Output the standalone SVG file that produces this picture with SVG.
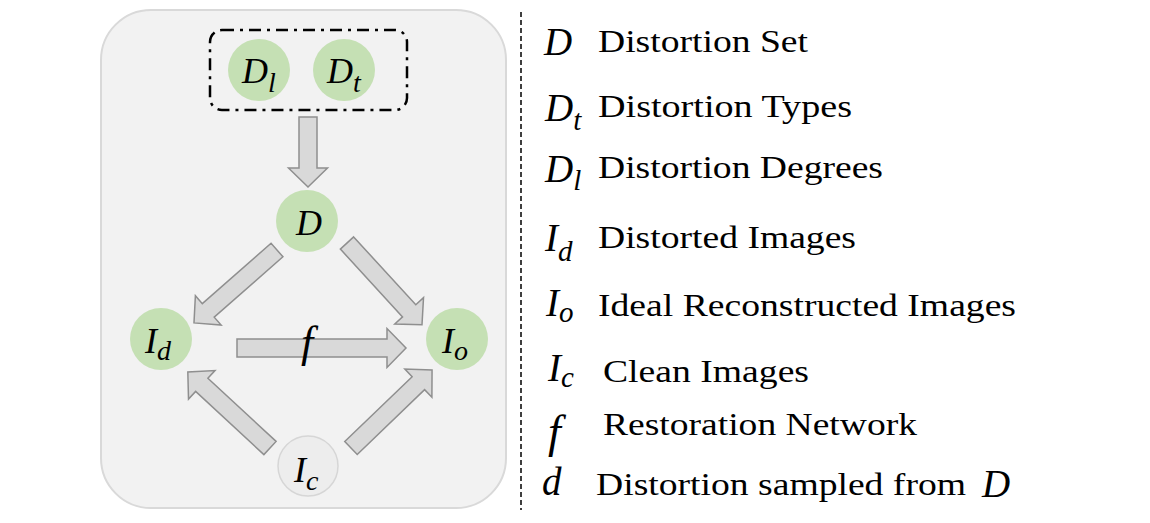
<svg xmlns="http://www.w3.org/2000/svg" width="1150" height="523" viewBox="0 0 1150 523">
<style>
.math{font-family:"Liberation Serif","Times New Roman",serif;font-style:italic;fill:#000}
.txt{font-family:"Liberation Serif","Times New Roman",serif;font-size:32px;fill:#000}
.node{fill:#c5e0b4}
.nodec{fill:#ededed;stroke:#d6d6d6;stroke-width:1.5}
.arrow{fill:#d9d9d9;stroke:#8f8f8f;stroke-width:1.5;stroke-linejoin:miter}
</style>
<rect width="1150" height="523" fill="#ffffff"/>
<g id="panel">
<rect x="101" y="10" width="405" height="498" rx="50" ry="50" fill="#f2f2f2" stroke="#d9d9d9" stroke-width="2"/>
</g>
<g id="group-box">
<rect x="210" y="30" width="197" height="80" rx="12" ry="12" fill="none" stroke="#000" stroke-width="2.5" stroke-dasharray="12 6 3 6"/>
</g>
<g id="connectors">
<path class="arrow" transform="translate(308,117) rotate(90)" d="M0,-9 L51,-9 L51,-19.5 L70,0 L51,19.5 L51,9 L0,9 Z"/>
<path class="arrow" transform="translate(277,250) rotate(138.7)" d="M0,-9 L91.5,-9 L91.5,-19.5 L110.5,0 L91.5,19.5 L91.5,9 L0,9 Z"/>
<path class="arrow" transform="translate(347,243) rotate(47.5)" d="M0,-9 L92,-9 L92,-19.5 L111,0 L92,19.5 L92,9 L0,9 Z"/>
<path class="arrow" transform="translate(270,448) rotate(-137.2)" d="M0,-9 L93,-9 L93,-19.5 L112,0 L93,19.5 L93,9 L0,9 Z"/>
<path class="arrow" transform="translate(351,448) rotate(-43.9)" d="M0,-9 L93.5,-9 L93.5,-19.5 L112.5,0 L93.5,19.5 L93.5,9 L0,9 Z"/>
<path class="arrow" transform="translate(237,348)" d="M0,-9 L150,-9 L150,-19.5 L169,0 L150,19.5 L150,9 L0,9 Z"/>
<text class="math" x="301" y="357" font-size="44">f</text>
</g>
<g id="node-Dl">
<circle class="node" cx="259" cy="70" r="31"/>
<text class="math" x="242" y="83" font-size="36">D<tspan font-size="28" dy="9">l</tspan></text>
</g>
<g id="node-Dt">
<circle class="node" cx="344" cy="70" r="31"/>
<text class="math" x="327" y="83" font-size="36">D<tspan font-size="28" dy="9">t</tspan></text>
</g>
<g id="node-D">
<circle class="node" cx="307" cy="221" r="31"/>
<text class="math" x="296" y="235" font-size="36">D</text>
</g>
<g id="node-Id">
<circle class="node" cx="161" cy="339" r="31"/>
<text class="math" x="145" y="353" font-size="36">I<tspan font-size="28" dy="7">d</tspan></text>
</g>
<g id="node-Io">
<circle class="node" cx="457" cy="339" r="31"/>
<text class="math" x="442" y="353" font-size="36">I<tspan font-size="28" dy="7">o</tspan></text>
</g>
<g id="node-Ic">
<circle class="nodec" cx="308" cy="466" r="30"/>
<text class="math" x="294" y="482" font-size="36">I<tspan font-size="28" dy="8">c</tspan></text>
</g>
<g id="legend">
<line x1="521" y1="12" x2="521" y2="510" stroke="#000" stroke-width="1.5" stroke-dasharray="5 3"/>
<text class="math" x="544" y="55" font-size="39">D</text>
<text class="txt" x="598" y="52" textLength="210" lengthAdjust="spacingAndGlyphs">Distortion Set</text>
<text class="math" x="545" y="121" font-size="39">D<tspan font-size="29" dy="9">t</tspan></text>
<text class="txt" x="598" y="117" textLength="254" lengthAdjust="spacingAndGlyphs">Distortion Types</text>
<text class="math" x="545" y="182" font-size="39">D<tspan font-size="29" dy="8">l</tspan></text>
<text class="txt" x="598" y="178" textLength="285" lengthAdjust="spacingAndGlyphs">Distortion Degrees</text>
<text class="math" x="545" y="251" font-size="39">I<tspan font-size="29" dy="10">d</tspan></text>
<text class="txt" x="598" y="248" textLength="258" lengthAdjust="spacingAndGlyphs">Distorted Images</text>
<text class="math" x="546" y="316" font-size="39">I<tspan font-size="29" dy="6">o</tspan></text>
<text class="txt" x="598" y="316" textLength="418" lengthAdjust="spacingAndGlyphs">Ideal Reconstructed Images</text>
<text class="math" x="548" y="381" font-size="39">I<tspan font-size="29" dy="6">c</tspan></text>
<text class="txt" x="603" y="382" textLength="206" lengthAdjust="spacingAndGlyphs">Clean Images</text>
<text class="math" x="548" y="447" font-size="46">f</text>
<text class="txt" x="603" y="435" textLength="314" lengthAdjust="spacingAndGlyphs">Restoration Network</text>
<text class="math" x="542" y="495" font-size="39">d</text>
<text class="txt" x="596" y="495" textLength="370" lengthAdjust="spacingAndGlyphs">Distortion sampled from</text>
<text class="math" x="982" y="497" font-size="39">D</text>
</g>
</svg>
